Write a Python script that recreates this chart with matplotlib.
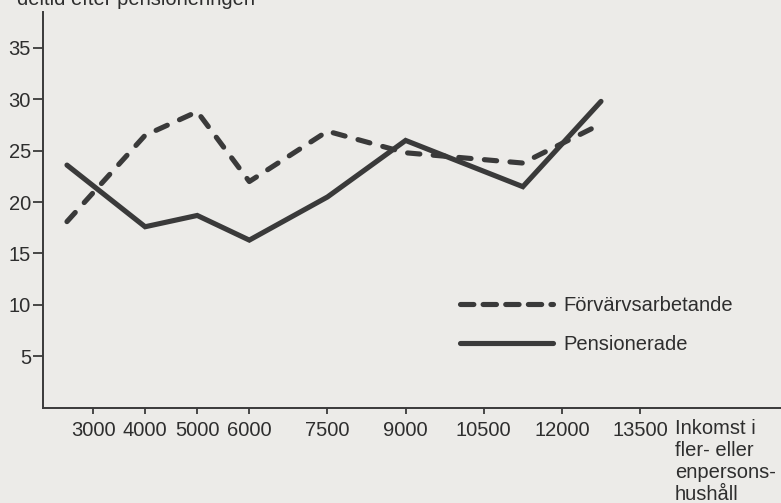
import matplotlib
matplotlib.use("Agg")
import matplotlib.pyplot as plt
from matplotlib.lines import Line2D

# Data
inkomst = [2500, 4000, 5000, 6000, 7500, 9000, 11250, 12750]
forvarvsarbetande = [18.1, 26.5, 28.8, 22.0, 26.9, 24.8, 23.8, 27.6]
pensionerade = [23.6, 17.6, 18.7, 16.3, 20.5, 26.0, 21.5, 29.8]

x_ticks = [3000, 4000, 5000, 6000, 7500, 9000, 10500, 12000, 13500]
y_ticks = [5, 10, 15, 20, 25, 30, 35]

bg = "#ecebe8"
ink = "#3a3a3a"
txt = "#2e2e2e"

plt.rcParams["font.family"] = ["Liberation Sans", "DejaVu Sans"]
plt.rcParams["font.size"] = 14.5

W, H = 781, 503
fig = plt.figure(figsize=(W / 100, H / 100), dpi=100, facecolor=bg)
ax = fig.add_axes([43 / W, 1 - 407.6 / H, 1 - 43 / W, (407.6 - 12) / H])
ax.set_facecolor(bg)

lw = 3.7
ax.plot(inkomst, forvarvsarbetande, color=ink, lw=lw, dashes=(2.4, 2.6),
        dash_capstyle="round", solid_joinstyle="miter")
ax.plot(inkomst, pensionerade, color=ink, lw=lw, solid_capstyle="round",
        solid_joinstyle="miter")

ax.set_xlim(2040, 16205)
ax.set_ylim(0, 38.5)

ax.set_xticks(x_ticks)
ax.set_xticklabels([str(v) for v in x_ticks], color=txt)
ax.set_yticks(y_ticks)
ax.set_yticklabels([str(v) for v in y_ticks], color=txt)

ax.tick_params(axis="x", direction="out", length=4.3, width=1.3, pad=5, color=ink)
ax.tick_params(axis="y", direction="out", length=7.2, width=1.3, pad=1.5, color=ink)

for s in ["top", "right"]:
    ax.spines[s].set_visible(False)
for s in ["left", "bottom"]:
    ax.spines[s].set_linewidth(1.4)
    ax.spines[s].set_color(ink)

# Legend
handles = [
    Line2D([], [], color=ink, lw=lw, dashes=(2.6, 1.8), dash_capstyle="round"),
    Line2D([], [], color=ink, lw=lw, solid_capstyle="round"),
]
ax.legend(handles, ["Förvärvsarbetande", "Pensionerade"], loc="upper left",
          bbox_to_anchor=(460 / W, 1 - 296 / H), bbox_transform=fig.transFigure,
          frameon=False, borderpad=0, borderaxespad=0, handlelength=4.6,
          handletextpad=0.55, labelspacing=1.0, labelcolor=txt)

# Texts outside the axes (title line is cut at the top edge, as in the scan)
fig.text(17 / W, 1 - 5 / H, "deltid efter pensioneringen", color=txt,
         ha="left", va="baseline")
fig.text(675 / W, 1 - 419 / H, "Inkomst i\nfler- eller\nenpersons-\nhushåll",
         color=txt, ha="left", va="top", linespacing=1.2)

fig.savefig("out.png", dpi=100, facecolor=bg)
